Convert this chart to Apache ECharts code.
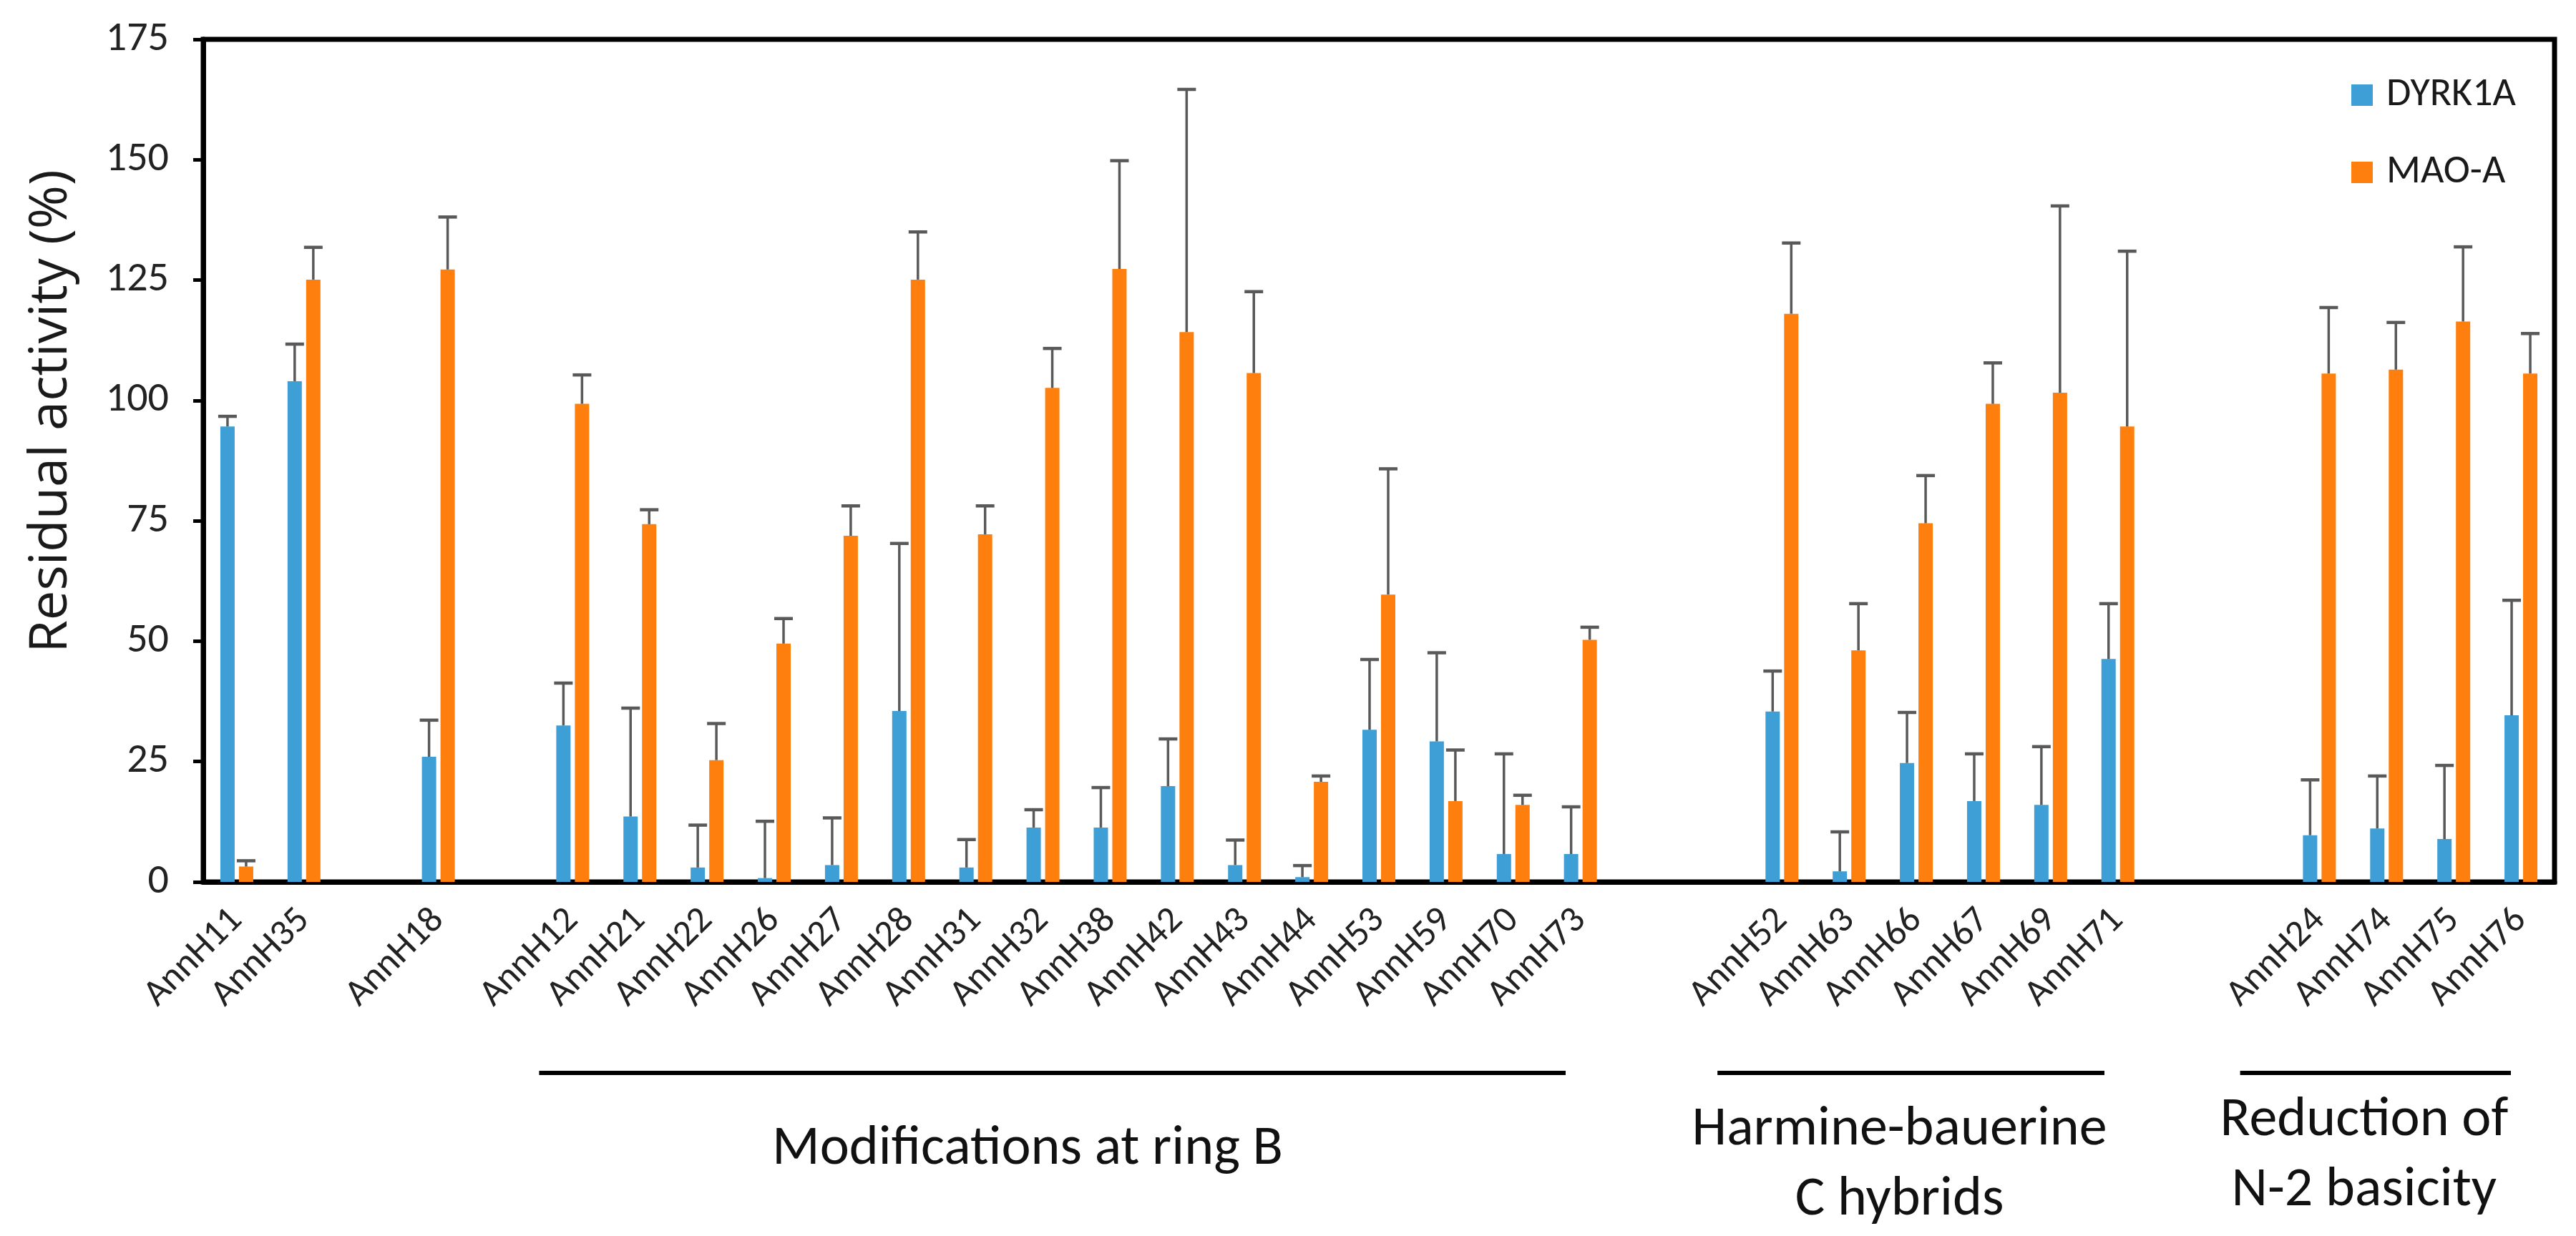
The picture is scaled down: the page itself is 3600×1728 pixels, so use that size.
<!DOCTYPE html>
<html><head><meta charset="utf-8">
<script src="https://cdn.jsdelivr.net/npm/echarts@6/dist/echarts.min.js"></script>
<style>html,body{margin:0;padding:0;background:#fff}#c{width:3600px;height:1728px}</style>
</head><body><div id="c"></div>
<script>
// ---- data ----
const categories = ['AnnH11','AnnH35',' ','AnnH18','  ','AnnH12','AnnH21','AnnH22','AnnH26','AnnH27','AnnH28','AnnH31','AnnH32','AnnH38','AnnH42','AnnH43','AnnH44','AnnH53','AnnH59','AnnH70','AnnH73','   ','    ','AnnH52','AnnH63','AnnH66','AnnH67','AnnH69','AnnH71','     ','      ','AnnH24','AnnH74','AnnH75','AnnH76'];
const dyrk1a   = [94.6,104.0,null,26.0,null,32.5,13.6,3.0,0.8,3.5,35.5,3.0,11.3,11.3,19.9,3.5,1.0,31.6,29.2,5.8,5.8,null,null,35.4,2.2,24.7,16.8,16.0,46.3,null,null,9.7,11.1,8.9,34.6];
const dyrk1aSD = [2.1,7.7,null,7.6,null,8.8,22.5,8.8,11.8,9.8,34.8,5.8,3.7,8.3,9.8,5.2,2.4,14.6,18.4,20.8,9.8,null,null,8.4,8.2,10.5,9.8,12.1,11.5,null,null,11.5,10.9,15.3,23.9];
const maoa     = [3.2,125.1,null,127.2,null,99.3,74.3,25.3,49.5,71.9,125.1,72.2,102.6,127.3,114.2,105.7,20.8,59.7,16.8,16.0,50.3,null,null,118.0,48.1,74.5,99.3,101.6,94.6,null,null,105.6,106.4,116.4,105.6];
const maoaSD   = [1.2,6.7,null,10.9,null,6.0,3.0,7.6,5.2,6.2,9.9,5.9,8.2,22.5,50.4,16.9,1.2,26.1,10.6,2.0,2.6,null,null,14.7,9.7,9.9,8.5,38.8,36.4,null,null,13.7,9.8,15.5,8.3];
const seriesNames = ['DYRK1A','MAO-A'];
const yMin = 0, yMax = 175, yStep = 25;
const yTitle = 'Residual activity (%)';
const groups = [
  {label:'Modifications at ring B', first:'AnnH12', last:'AnnH73'},
  {label:'Harmine-bauerine\nC hybrids', first:'AnnH52', last:'AnnH71'},
  {label:'Reduction of\nN-2 basicity', first:'AnnH24', last:'AnnH76'}
];

// ---- style / layout ----
const COLORS = ['#3E9FD6','#FF7F0E'];
const ERR = '#595959';
const F_TICK = 'Carlito, Lato, sans-serif';
const BAR_W = 20, OFF = 13;
const groupLayout = [
  {s:-0.50, e:-0.22, t:-0.37, ty:1607},
  {s:-0.96, e:-0.20, t:-0.17, ty:1629},
  {s:-1.18, e:-0.15, t:-0.17, ty:1616}
];

const chart = echarts.init(document.getElementById('c'), null, {renderer:'canvas'});

function errSeries(means, sds, offset) {
  const data = means.map((m,i)=> m==null ? null : [i, m, sds[i]]).filter(Boolean);
  return {
    type:'custom', silent:true, z:4, data,
    encode:{x:0, y:1},
    renderItem:(params, api)=>{
      const i = api.value(0), m = api.value(1), s = api.value(2);
      const b = api.coord([i, m]), t = api.coord([i, m + s]);
      const x = b[0] + offset;
      return {type:'group', children:[
        {type:'line', shape:{x1:x, y1:b[1], x2:x, y2:t[1]}, style:{stroke:ERR, lineWidth:3.5}},
        {type:'line', shape:{x1:x-13, y1:t[1], x2:x+13, y2:t[1]}, style:{stroke:ERR, lineWidth:4.5}}
      ]};
    }
  };
}

chart.setOption({
  backgroundColor:'#ffffff',
  animation:false,
  grid:{left:284, right:30, top:55, bottom:495, show:true, borderColor:'#000', borderWidth:7, backgroundColor:'transparent'},
  legend:{
    data:seriesNames, orient:'vertical', left:3281, top:98,
    itemWidth:30, itemHeight:30, itemGap:48, icon:'rect',
    textStyle:{fontSize:56, fontFamily:F_TICK, color:'#1a1a1a', lineHeight:60, padding:[0,0,0,14]}
  },
  xAxis:{
    type:'category', data:categories,
    axisLine:{lineStyle:{color:'#000', width:7}},
    axisTick:{show:false},
    axisLabel:{interval:0, rotate:45, fontSize:52, fontFamily:F_TICK, color:'#222', margin:46}
  },
  yAxis:{
    type:'value', min:yMin, max:yMax, interval:yStep,
    axisLine:{show:true, lineStyle:{color:'#000', width:7}},
    axisTick:{show:true, length:14, lineStyle:{color:'#000', width:5}},
    splitLine:{show:false},
    axisLabel:{fontSize:58, fontFamily:F_TICK, color:'#222', margin:48}
  },
  series:[
    {name:seriesNames[0], type:'bar', data:dyrk1a, barWidth:BAR_W, barGap:'30%', itemStyle:{color:COLORS[0]}, z:2},
    {name:seriesNames[1], type:'bar', data:maoa, barWidth:BAR_W, barGap:'30%', itemStyle:{color:COLORS[1]}, z:2},
    errSeries(dyrk1a, dyrk1aSD, -OFF),
    errSeries(maoa, maoaSD, OFF)
  ]
});

// ---- annotations derived from the category axis ----
const px = c => chart.convertToPixel({xAxisIndex:0}, c);
const slot = px(categories[1]) - px(categories[0]);
const graphics = [{
  type:'text', x:72, y:575, rotation:Math.PI/2,
  style:{text:yTitle, fontSize:74, fontFamily:'"Open Sans", sans-serif', fill:'#1a1a1a', align:'center', verticalAlign:'middle'}
}];
groups.forEach((g, k)=>{
  const L = groupLayout[k];
  const x1 = px(g.first) + L.s*slot, x2 = px(g.last) + L.e*slot;
  graphics.push({type:'line', shape:{x1, y1:1500, x2, y2:1500}, style:{stroke:'#000', lineWidth:6}});
  graphics.push({type:'text', x:(x1+x2)/2 + L.t*slot, y:L.ty,
    style:{text:g.label, fontSize:78, fontFamily:F_TICK, fill:'#111', align:'center', verticalAlign:'middle', lineHeight:98}});
});
chart.setOption({graphic:graphics});
</script>
</body></html>
